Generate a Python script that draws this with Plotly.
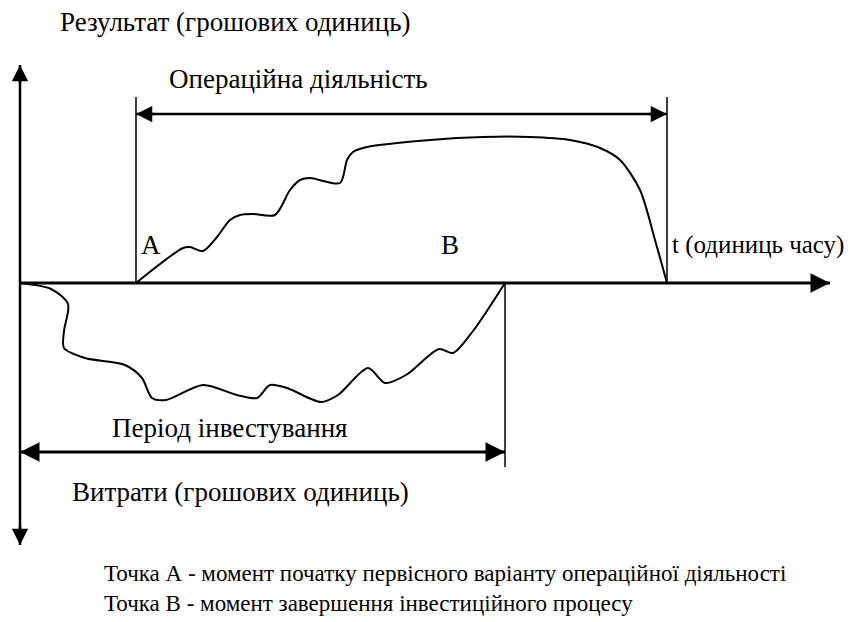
import plotly.graph_objects as go

# ---- data (x: time units from the vertical axis, y: money units from the time axis) ----
t_A = 116          # start of operating activity (point A)
t_B = 485          # end of investment (point B)
t_T = 647          # end of operating activity
t_axis_end = 810   # end of time axis
y_axis_top = 218
y_axis_bottom = -262
y_oper_arrow = 169
y_oper_line_top = 186
y_inv_arrow = -169
y_inv_line_bottom = -184

# result (operating activity) curve
res_t = [116, 163, 170, 183, 197, 210, 220, 233, 255, 270, 280, 290, 320, 327, 333, 347, 410, 463, 510, 550, 580, 600, 620, 635, 647]
res_v = [0, 35, 36, 32, 46, 63, 68, 69, 68, 93, 103, 105, 100, 123, 131, 136, 143, 146, 146, 143, 135, 123, 93, 43, 0]

# cost (investment) curve
cost_t = [0, 31, 48, 44, 44, 65, 105, 122, 132, 146, 183, 217, 237, 250, 267, 301, 318, 348, 365, 386, 419, 433, 453, 485]
cost_v = [0, -6, -21, -48, -65, -75, -82, -95, -115, -117, -102, -112, -115, -102, -105, -119, -112, -85, -100, -92, -66, -70, -48, 0]

title_top = "Результат (грошових одиниць)"
title_bottom = "Витрати (грошових одиниць)"
label_oper = "Операційна діяльність"
label_inv = "Період інвестування"
label_A = "A"
label_B = "B"
label_t = "t (одиниць часу)"
note_A = "Точка А - момент початку первісного варіанту операційної діяльності"
note_B = "Точка В - момент завершення інвестиційного процесу"

FONT = "Liberation Serif, Times New Roman, serif"
BLK = "#000000"

fig = go.Figure()

# curves
fig.add_trace(go.Scatter(x=res_t, y=res_v, mode="lines", line=dict(color=BLK, width=2, shape="spline", smoothing=0.8),
                         hoverinfo="skip", showlegend=False))
fig.add_trace(go.Scatter(x=cost_t, y=cost_v, mode="lines", line=dict(color=BLK, width=2, shape="spline", smoothing=0.8),
                         hoverinfo="skip", showlegend=False))

def line(x0, y0, x1, y1, w):
    fig.add_shape(type="line", x0=x0, x1=x1, y0=y0, y1=y1, xref="x", yref="y", line=dict(color=BLK, width=w))

def head(x_to, y_to, dx, dy, w=2.5):
    # arrowhead only: short arrow pointing at (x_to, y_to) coming from direction (dx, dy)
    fig.add_annotation(x=x_to, y=y_to, ax=x_to - dx, ay=y_to - dy, xref="x", yref="y", axref="x", ayref="y",
                       text="", showarrow=True, arrowhead=2, arrowsize=1.3, arrowwidth=w, arrowcolor=BLK)

# vertical guide lines
line(t_A, 0, t_A, y_oper_line_top, 1.5)
line(t_T, 0, t_T, y_oper_line_top, 1.5)
line(t_B, y_inv_line_bottom, t_B, 0, 1.5)

# axes
line(0, y_axis_bottom, 0, y_axis_top, 2.5)
head(0, y_axis_top, 0, 20)
head(0, y_axis_bottom, 0, -20)
line(0, 0, t_axis_end, 0, 3)
head(t_axis_end, 0, 20, 0, 3)

# operating activity double arrow
line(t_A, y_oper_arrow, t_T, y_oper_arrow, 2.5)
head(t_A, y_oper_arrow, -20, 0)
head(t_T, y_oper_arrow, 20, 0)
# investment double arrow
line(0, y_inv_arrow, t_B, y_inv_arrow, 3)
head(0, y_inv_arrow, -20, 0, 3)
head(t_B, y_inv_arrow, 20, 0, 3)

def text(x, y, s, size=27, anchor="center"):
    fig.add_annotation(x=x, y=y, xref="x", yref="y", text=s, showarrow=False, xanchor=anchor, yanchor="middle",
                       font=dict(family=FONT, size=size, color=BLK))

text(38, 261, title_top, anchor="left")
text(147, 204, label_oper, anchor="left")
text(t_A + 3, 38, label_A, anchor="left")
text(430, 38, label_B)
text(t_T + 3, 38, label_t, size=25, anchor="left")
text(210, -145, label_inv)
text(50, -209, title_bottom, anchor="left")
text(82, -290, note_A, size=23, anchor="left")
text(82, -320, note_B, size=23, anchor="left")

# page body adds an 8px offset; figure is sized/ranged so data land on the same page pixels
fig.update_layout(
    width=852, height=614,
    margin=dict(l=0, r=0, t=0, b=0),
    paper_bgcolor="white", plot_bgcolor="white",
    xaxis=dict(range=[-12, 840], visible=False, fixedrange=True),
    yaxis=dict(range=[-339, 275], visible=False, fixedrange=True),
    showlegend=False,
)

fig.write_html("out.html")
